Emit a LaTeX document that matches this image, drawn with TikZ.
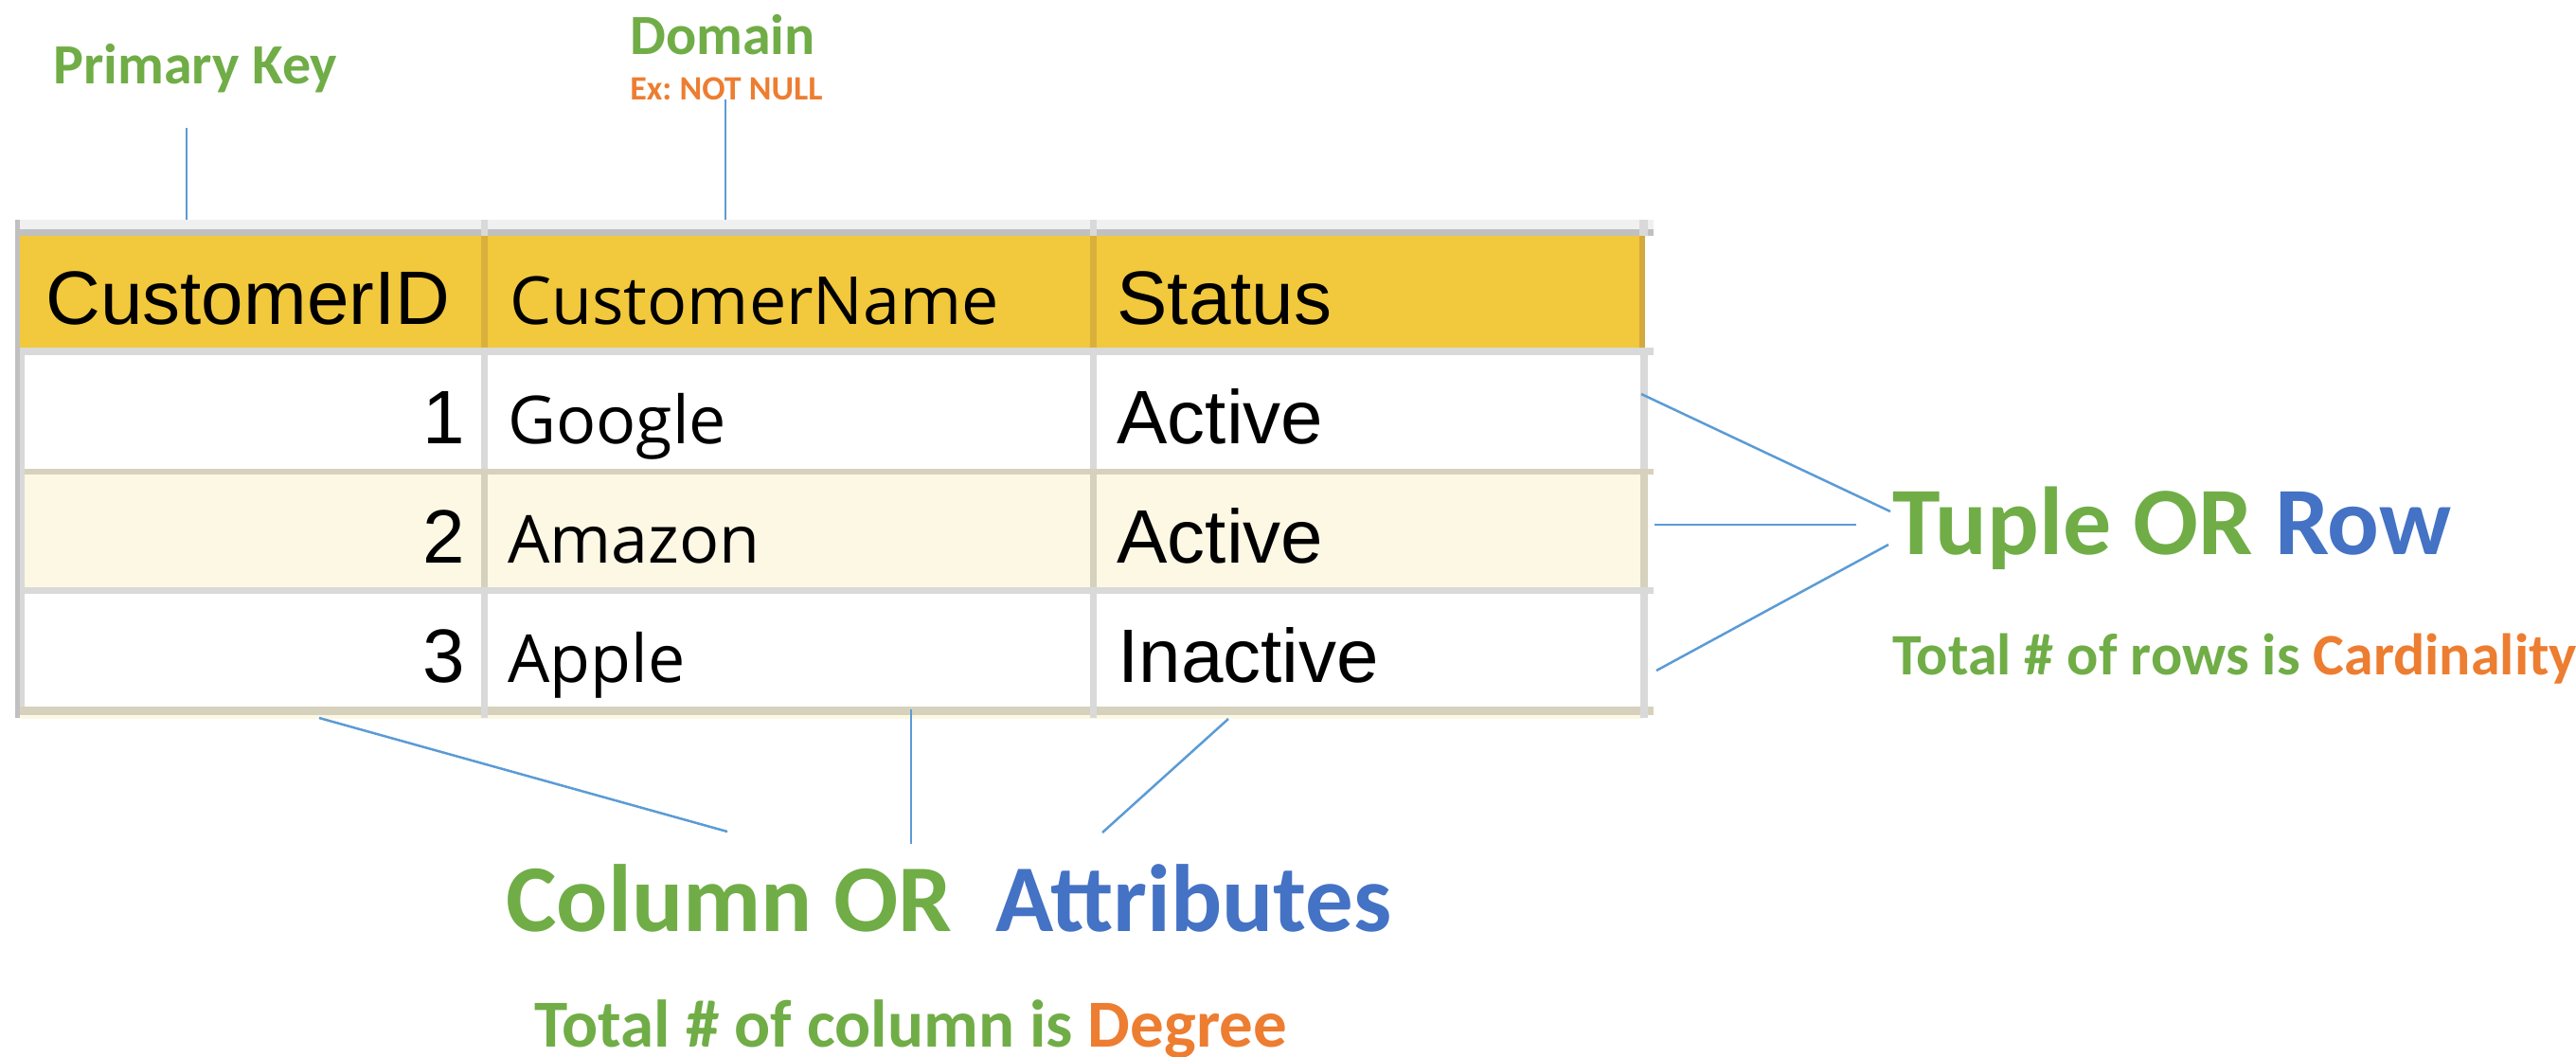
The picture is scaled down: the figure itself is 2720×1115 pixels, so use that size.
\documentclass[tikz,border=0pt]{standalone}
\usepackage{fontspec}
\setmainfont{Liberation Sans}
\newfontfamily\calb{Carlito}
\newfontfamily\seg{Open Sans}
\newfontfamily\ari{Liberation Sans}
\frenchspacing
\definecolor{lgreen}{HTML}{70AD47}
\definecolor{lblue}{HTML}{4472C4}
\definecolor{lorange}{HTML}{ED7D31}
\definecolor{conn}{HTML}{5B9BD5}
\definecolor{hdr}{HTML}{F2C83C}
\definecolor{hdredge}{HTML}{D4AA3C}
\definecolor{cream}{HTML}{FDF8E4}
\definecolor{topband}{HTML}{F0F0F0}
\definecolor{gline}{HTML}{C0C0C0}
\definecolor{lgline}{HTML}{D9D9D9}
\definecolor{bline}{HTML}{D6D1BC}
\tikzset{
  lbl/.style={inner sep=0pt, anchor=base west, font=\calb\bfseries},
  cellA/.style={inner sep=0pt, anchor=base west, font=\ari\fontsize{40}{48}\selectfont},
  cellS/.style={inner sep=0pt, anchor=base west, font=\seg\fontsize{35}{42}\selectfont},
  num/.style={inner sep=0pt, anchor=base east, font=\ari\fontsize{40}{48}\selectfont},
  connector/.style={draw=conn, line width=1.25pt}
}
\begin{document}
\begin{tikzpicture}[x=0.5pt,y=-0.5pt]
\useasboundingbox (0,0) rectangle (2720,1115);
% table backgrounds
\fill[topband] (19,232) rectangle (1746,242);
\fill[gline] (16,242) rectangle (1746,249);
\fill[hdr] (21,249) rectangle (1737,367);
\fill[hdredge] (1731,249) rectangle (1737,367);
\fill[lgline] (16,367) rectangle (1746,375);
\fill[white] (21,375) rectangle (1735,495);
\fill[bline] (16,495) rectangle (1746,501);
\fill[cream] (21,501) rectangle (1735,620);
\fill[lgline] (16,620) rectangle (1746,627);
\fill[white] (21,627) rectangle (1735,746);
\fill[bline] (16,746) rectangle (1746,755);
\fill[cream] (21,755) rectangle (1735,759);
% vertical lines
\fill[gline] (16,232) rectangle (21,758);
\fill[lgline] (21,367) rectangle (26,746);
\fill[lgline] (508,232) rectangle (515,249);
\fill[hdredge!80!hdr] (508,249) rectangle (515,367);
\fill[lgline] (508,375) rectangle (515,495);
\fill[bline] (508,501) rectangle (515,620);
\fill[lgline] (508,627) rectangle (515,758);
\fill[lgline] (1151,232) rectangle (1158,249);
\fill[hdredge!80!hdr] (1151,249) rectangle (1158,367);
\fill[lgline] (1151,375) rectangle (1158,495);
\fill[bline] (1151,501) rectangle (1158,620);
\fill[lgline] (1151,627) rectangle (1158,758);
\fill[lgline] (1731,232) rectangle (1740,249);
\fill[lgline] (1732,375) rectangle (1740,495);
\fill[bline] (1732,501) rectangle (1740,620);
\fill[lgline] (1732,627) rectangle (1740,758);
% header texts
\node[cellA] (hid) at (48,342) {CustomerID};
\node[cellS] (hname) at (538,342) {CustomerName};
\node[cellA] (hstatus) at (1179,342) {Status};
% rows
\node[num] (n1) at (491,468) {1};
\node[cellS] (c1) at (536,468) {Google};
\node[cellA] (s1) at (1179,468) {Active};
\node[num] (n2) at (491,594) {2};
\node[cellS] (c2) at (536,594) {Amazon};
\node[cellA] (s2) at (1179,594) {Active};
\node[num] (n3) at (491,720) {3};
\node[cellS] (c3) at (536,720) {Apple};
\node[cellA] (s3) at (1180,720) {Inactive};
% labels
\node[lbl, text=lgreen, font=\calb\bfseries\fontsize{30}{36}\selectfont] (pk) at (56,88) {Primary Key};
\node[lbl, text=lgreen, font=\calb\bfseries\fontsize{30}{36}\selectfont] (dom) at (665,57) {Domain};
\node[lbl, text=lorange, font=\calb\bfseries\fontsize{18}{22}\selectfont] (ex) at (665,105) {Ex: NOT NULL};
\node[lbl, font=\calb\bfseries\fontsize{51}{60}\selectfont] (tuple) at (1998,585) {\textcolor{lgreen}{Tuple OR} \textcolor{lblue}{Row}};
\node[lbl, font=\calb\bfseries\fontsize{31}{38}\selectfont] (card) at (1998,712) {\textcolor{lgreen}{Total \# of rows is} \textcolor{lorange}{Cardinality}};
\node[lbl, font=\calb\bfseries\fontsize{50.5}{60}\selectfont] (colattr) at (534,983) {\textcolor{lgreen}{Column OR}\ \ \textcolor{lblue}{Attributes}};
\node[lbl, font=\calb\bfseries\fontsize{35.5}{42}\selectfont] (deg) at (564,1105) {\textcolor{lgreen}{Total \# of column is} \textcolor{lorange}{Degree}};
% connector endpoints
\coordinate (pkT) at (197,135);
\coordinate (pkB) at (197,232);
\coordinate (domT) at (766,105);
\coordinate (domB) at (766,232);
\coordinate (r1a) at (1733,416);
\coordinate (r1b) at (1996,540);
\coordinate (r2a) at (1747,554);
\coordinate (r2b) at (1960,554);
\coordinate (r3a) at (1749,708);
\coordinate (r3b) at (1994,575);
\coordinate (c1a) at (337,758);
\coordinate (c1b) at (768,878);
\coordinate (c2a) at (962,749);
\coordinate (c2b) at (962,891);
\coordinate (c3a) at (1297,759);
\coordinate (c3b) at (1164,879);
% connectors
\draw[connector] (pkT) -- (pkB);
\draw[connector] (domT) -- (domB);
\draw[connector] (r1a) -- (r1b);
\draw[connector] (r2a) -- (r2b);
\draw[connector] (r3a) -- (r3b);
\draw[connector] (c1a) -- (c1b);
\draw[connector] (c2a) -- (c2b);
\draw[connector] (c3a) -- (c3b);
\end{tikzpicture}
\end{document}
